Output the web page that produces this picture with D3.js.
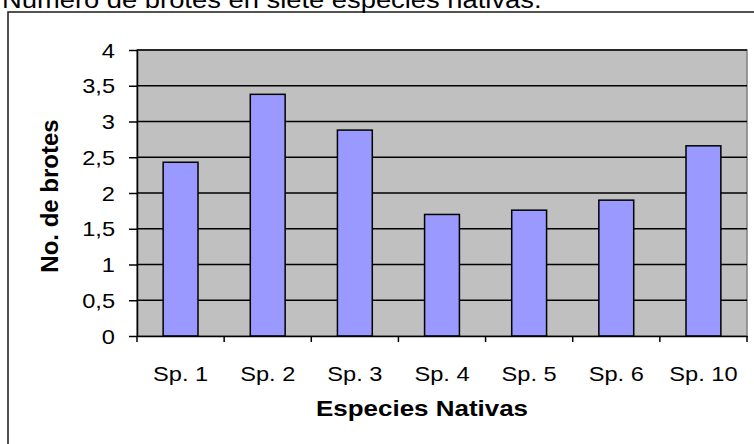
<!DOCTYPE html>
<html><head><meta charset="utf-8">
<script src="https://cdn.jsdelivr.net/npm/d3@7"></script>
<style>html,body{margin:0;padding:0;background:#fff;}svg{display:block;}text{font-family:"Liberation Sans",Arial,sans-serif;}</style>
</head><body>
<script>
const categories = ["Sp. 1","Sp. 2","Sp. 3","Sp. 4","Sp. 5","Sp. 6","Sp. 10"];
const values = [2.43, 3.38, 2.88, 1.70, 1.76, 1.90, 2.66];
const yTicks = [0, 0.5, 1, 1.5, 2, 2.5, 3, 3.5, 4];
const yTickLabels = ["0","0,5","1","1,5","2","2,5","3","3,5","4"];
const title = "Número de brotes en siete especies nativas.";
const xTitle = "Especies Nativas";
const yTitle = "No. de brotes";

const W = 754, H = 444;
const SX = 1.18; // horizontal stretch of text
const svg = d3.select("body").append("svg").attr("width", W).attr("height", H);

const L = 137, R = 747, T = 50, B = 336;
const x = d3.scaleBand().domain(categories).range([L, R]).paddingInner(0.6).paddingOuter(0.3);
const y = d3.scaleLinear().domain([0, 4]).range([B, T]);

// outer frame
svg.append("rect").attr("x", 8).attr("y", 12).attr("width", W + 20).attr("height", H + 20)
  .attr("fill", "#fff").attr("stroke", "#1a1a1a").attr("stroke-width", 1.5);

// title
svg.append("text").attr("transform", `translate(2,8) scale(1.14,1)`)
  .attr("font-size", 24).attr("fill", "#000").text(title);

// plot area
svg.append("rect").attr("x", L).attr("y", T).attr("width", R - L).attr("height", B - T)
  .attr("fill", "#c0c0c0").attr("stroke", "#808080").attr("stroke-width", 1.5);

// gridlines
svg.append("g").selectAll("line").data(yTicks.filter(d => d > 0)).join("line")
  .attr("x1", L).attr("x2", R).attr("y1", d => y(d)).attr("y2", d => y(d))
  .attr("stroke", "#000").attr("stroke-width", 1.5);

// bars
svg.append("g").selectAll("rect").data(values).join("rect")
  .attr("x", (d, i) => x(categories[i])).attr("width", x.bandwidth())
  .attr("y", d => y(d)).attr("height", d => y(0) - y(d))
  .attr("fill", "#9999ff").attr("stroke", "#000").attr("stroke-width", 1.5);

// y axis
const yAxis = d3.axisLeft(y).tickValues(yTicks).tickSize(8).tickSizeOuter(0)
  .tickFormat((d, i) => yTickLabels[i]);
const gy = svg.append("g").attr("transform", `translate(${L},0)`).call(yAxis);
gy.select(".domain").attr("stroke", "#000").attr("stroke-width", 1.5);
gy.selectAll(".tick line").attr("stroke", "#000").attr("stroke-width", 1.5);
gy.selectAll(".tick text").attr("font-size", 20).attr("fill", "#000")
  .attr("x", 0).attr("dy", "0.36em").attr("text-anchor", "end")
  .attr("transform", `translate(-22,0) scale(${SX},1)`);

// x axis
const xAxis = d3.axisBottom(x).tickSize(0).tickSizeOuter(0);
const gx = svg.append("g").attr("transform", `translate(0,${B})`).call(xAxis);
gx.select(".domain").attr("stroke", "#000").attr("stroke-width", 1.5);
gx.selectAll(".tick text").attr("font-size", 20).attr("fill", "#000")
  .attr("y", 0).attr("dy", 0).attr("transform", `translate(0,45) scale(${SX},1)`);
// category boundary ticks
const bounds = categories.map(c => x(c) - x.step() * x.paddingInner() / 2).concat([R]);
bounds[0] = L;
svg.append("g").selectAll("line").data(bounds).join("line")
  .attr("x1", d => d).attr("x2", d => d).attr("y1", B).attr("y2", B + 6)
  .attr("stroke", "#000").attr("stroke-width", 1.5);

// axis titles
svg.append("text").attr("transform", `translate(${(L + R) / 2 - 20},416) scale(${SX},1)`)
  .attr("text-anchor", "middle").attr("font-size", 22).attr("font-weight", "bold")
  .attr("fill", "#000").text(xTitle);
svg.append("text").attr("transform", `translate(58,196) rotate(-90)`)
  .attr("text-anchor", "middle").attr("font-size", 24).attr("font-weight", "bold")
  .attr("fill", "#000").text(yTitle);
</script>
</body></html>
